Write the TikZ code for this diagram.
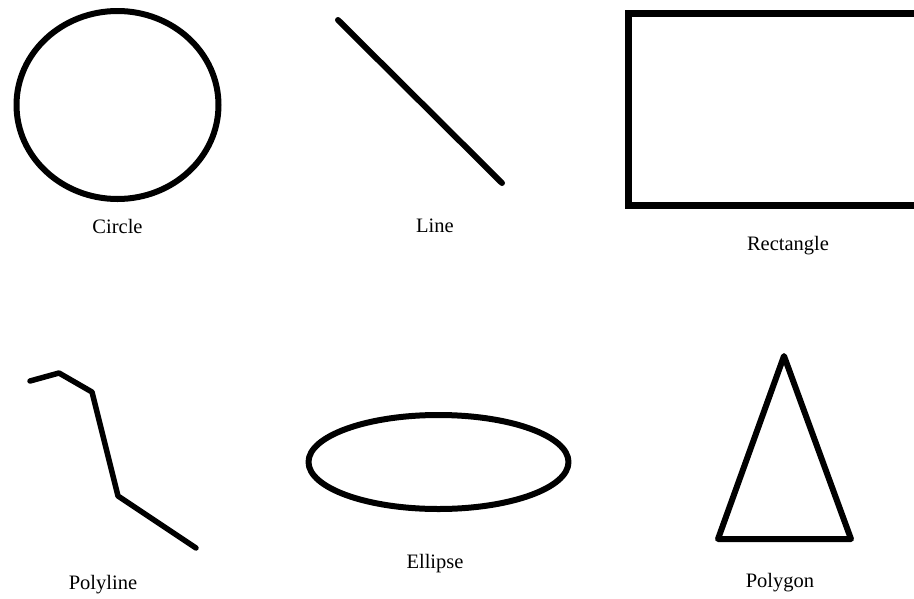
\documentclass[tikz,border=0pt]{standalone}
\usepackage{fontspec}
\setmainfont{Liberation Serif}
\begin{document}
\begin{tikzpicture}[x=1pt,y=-1pt,
  shape line/.style={line width=6pt, line cap=round, line join=round, black},
  label text/.style={font=\fontsize{20.5}{23}\selectfont, inner sep=0pt, anchor=center}]
\useasboundingbox (0,0) rectangle (914,598);
\fill[white] (0,0) rectangle (914,598);
% Circle
\draw[shape line] (117.5,105) ellipse [x radius=101, y radius=94];
\node[label text] (lcircle) at (117.5,226) {Circle};
% Line
\coordinate (l1) at (338,20);
\coordinate (l2) at (502,183);
\draw[shape line] (l1) -- (l2);
\node[label text] (lline) at (435,226) {Line};
% Rectangle
\begin{scope}
\clip (0,0) rectangle (914,598);
\draw[line width=7pt, line join=miter] (628,13.5) rectangle (920,205);
\end{scope}
\node[label text] (lrect) at (788,246) {Rectangle};
% Polyline
\coordinate (p1) at (30,381);
\coordinate (p2) at (59,373);
\coordinate (p3) at (92,392);
\coordinate (p4) at (118,496);
\coordinate (p5) at (196,548);
\draw[shape line, line width=5.5pt] (p1) -- (p2) -- (p3) -- (p4) -- (p5);
\node[label text] (lpoly) at (103,585) {Polyline};
% Ellipse
\draw[shape line] (438.5,462) ellipse [x radius=130, y radius=47];
\node[label text] (lell) at (435,564) {Ellipse};
% Polygon
\coordinate (t1) at (784,356);
\coordinate (t2) at (718,539);
\coordinate (t3) at (851,539);
\draw[shape line] (t1) -- (t2) -- (t3) -- cycle;
\node[label text] (lpgon) at (780,583) {Polygon};
\end{tikzpicture}
\end{document}
